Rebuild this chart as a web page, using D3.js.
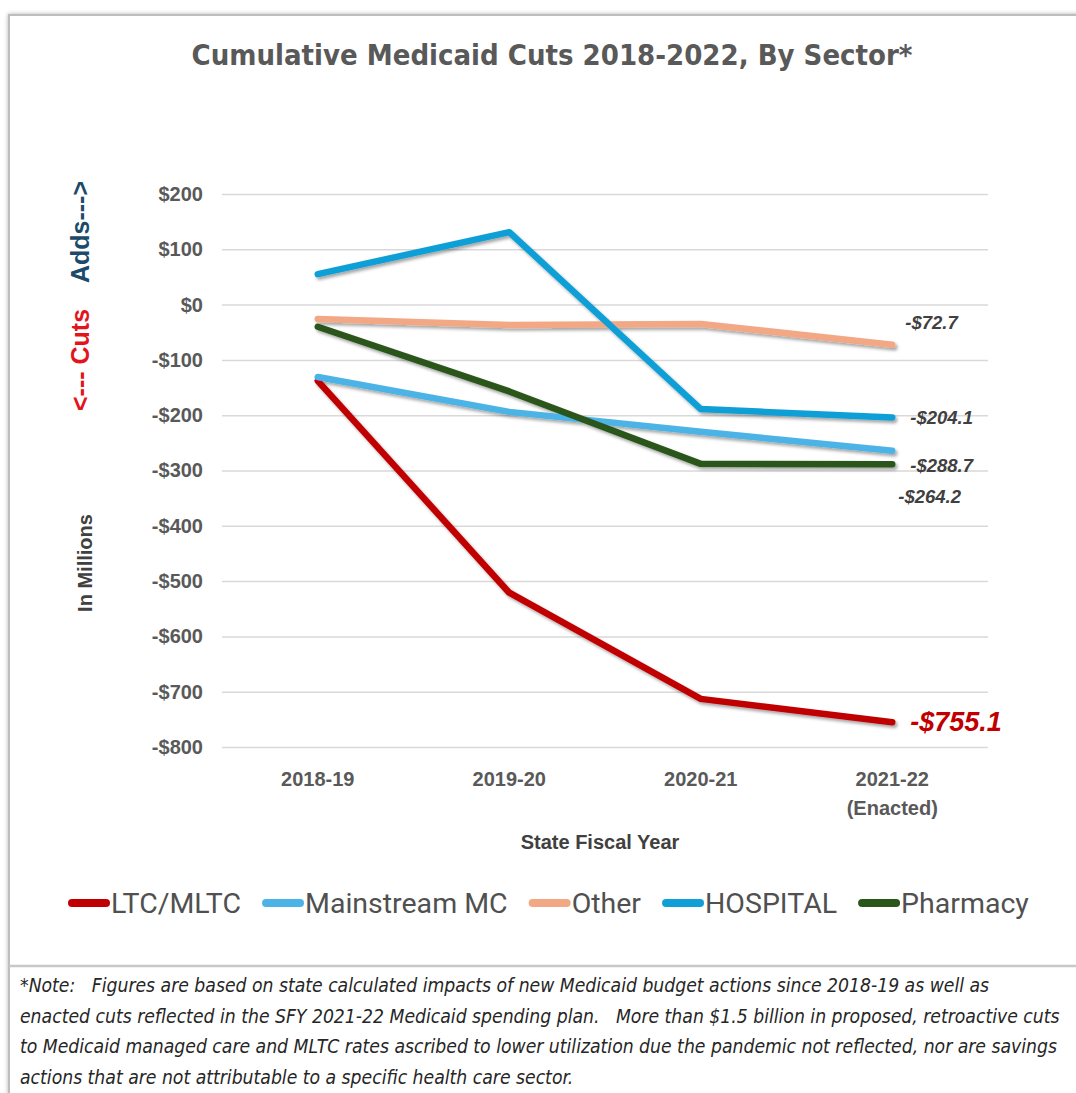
<!DOCTYPE html>
<html>
<head>
<meta charset="utf-8">
<script src="https://cdn.jsdelivr.net/npm/d3@7"></script>
<style>
  html, body { margin: 0; padding: 0; background: #ffffff; }
  svg { display: block; }
</style>
</head>
<body>
<script>
const categories = ["2018-19", "2019-20", "2020-21", "2021-22"];
const categoryLines = [["2018-19"], ["2019-20"], ["2020-21"], ["2021-22", "(Enacted)"]];
const seriesNames = ["LTC/MLTC", "Mainstream MC", "Other", "HOSPITAL", "Pharmacy"];
const seriesColors = ["#c00000", "#4cb3e6", "#f2a884", "#109fd6", "#29561a"];
const ltcValues = [-138, -521, -713, -755.1];
const mainstreamValues = [-131, -194, -230, -264.2];
const otherValues = [-26, -37, -35, -72.7];
const hospitalValues = [55, 131, -189, -204.1];
const pharmacyValues = [-40, -157, -288, -288.7];
const yTicks = [200, 100, 0, -100, -200, -300, -400, -500, -600, -700, -800];
const endLabels = ["-$755.1", "-$264.2", "-$72.7", "-$204.1", "-$288.7"];
const title = "Cumulative Medicaid Cuts 2018-2022, By Sector*";
const noteLines = [
  "*Note:   Figures are based on state calculated impacts of new Medicaid budget actions since 2018-19 as well as",
  "enacted cuts reflected in the SFY 2021-22 Medicaid spending plan.   More than $1.5 billion in proposed, retroactive cuts",
  "to Medicaid managed care and MLTC rates ascribed to lower utilization due the pandemic not reflected, nor are savings",
  "actions that are not attributable to a specific health care sector."
];

const allValues = [ltcValues, mainstreamValues, otherValues, hospitalValues, pharmacyValues];

const W = 1076, H = 1093;
const svg = d3.select("body").append("svg").attr("width", W).attr("height", H);

const defs = svg.append("defs");
const f = defs.append("filter").attr("id", "shadow").attr("x", "-10%").attr("y", "-10%").attr("width", "130%").attr("height", "140%");
f.append("feDropShadow").attr("dx", 2).attr("dy", 2.5).attr("stdDeviation", 1.8).attr("flood-color", "#000").attr("flood-opacity", 0.35);
const fb = defs.append("filter").attr("id", "frameShadow").attr("x", "-5%").attr("y", "-5%").attr("width", "110%").attr("height", "110%");
fb.append("feDropShadow").attr("dx", 0).attr("dy", 0).attr("stdDeviation", 2).attr("flood-color", "#000").attr("flood-opacity", 0.3);

// frame
svg.append("rect").attr("x", 9).attr("y", 15).attr("width", W + 20).attr("height", H + 20)
  .attr("fill", "#fff").attr("stroke", "#bdbdbd").attr("stroke-width", 2).attr("filter", "url(#frameShadow)");
svg.append("line").attr("x1", 9).attr("x2", W).attr("y1", 966).attr("y2", 966)
  .attr("stroke", "#c8c8c8").attr("stroke-width", 2.5);

const condensed = "'DejaVu Sans Condensed', 'Roboto', sans-serif";
const sans = "'Liberation Sans', Arial, sans-serif";

svg.append("text").attr("x", 552).attr("y", 65).attr("text-anchor", "middle")
  .attr("font-family", condensed).attr("font-weight", "bold").attr("font-size", 29)
  .attr("fill", "#595959").text(title);

const x = d3.scaleBand().domain(categories).range([222, 988]);
const y = d3.scaleLinear().domain([-800, 200]).range([747, 194]);
const cx = c => x(c) + x.bandwidth() / 2;

// gridlines
const yAxis = d3.axisLeft(y).tickValues(yTicks).tickSize(-(988 - 222)).tickPadding(19)
  .tickFormat(d => (d < 0 ? "-$" : "$") + Math.abs(d));
const ga = svg.append("g").attr("transform", "translate(222,0)").call(yAxis);
ga.select(".domain").remove();
ga.selectAll(".tick line").attr("stroke", "#d9d9d9").attr("stroke-width", 1.5);
ga.selectAll(".tick text").attr("font-family", sans).attr("font-weight", "bold").attr("font-size", 20).attr("fill", "#595959");

// x labels
const xg = svg.append("g");
categories.forEach((c, i) => {
  const t = xg.append("text").attr("x", cx(c)).attr("y", 786).attr("text-anchor", "middle")
    .attr("font-family", sans).attr("font-weight", "bold").attr("font-size", 20).attr("fill", "#595959");
  categoryLines[i].forEach((ln, j) => {
    t.append("tspan").attr("x", cx(c)).attr("dy", j === 0 ? 0 : 29).text(ln);
  });
});
svg.append("text").attr("x", 600).attr("y", 849).attr("text-anchor", "middle")
  .attr("font-family", sans).attr("font-weight", "bold").attr("font-size", 20).attr("fill", "#404040").text("State Fiscal Year");

// rotated labels
function rot(txt, xx, yy, color, size) {
  svg.append("text").attr("transform", `translate(${xx},${yy}) rotate(-90)`).attr("text-anchor", "middle")
    .attr("font-family", sans).attr("font-weight", "bold").attr("font-size", size).attr("fill", color).text(txt);
}
rot("Adds--->", 89, 232, "#1b4a6b", 25);
rot("<--- Cuts", 89, 360, "#e3141b", 25);
rot("In Millions", 92, 563, "#404040", 20);

// lines
const line = d3.line().x((d, i) => cx(categories[i])).y(d => y(d));
const lg = svg.append("g").attr("filter", "url(#shadow)");
allValues.forEach((vals, s) => {
  lg.append("path").datum(vals).attr("d", line).attr("fill", "none")
    .attr("stroke", seriesColors[s]).attr("stroke-width", 6.5)
    .attr("stroke-linecap", "round").attr("stroke-linejoin", "round");
});

// end labels
const labelPos = [
  {dx: 18, dy: 9, size: 27, color: "#c00000"},
  {dx: 6, dy: 52, size: 18.5, color: "#404040"},
  {dx: 13, dy: -16, size: 18.5, color: "#404040"},
  {dx: 18, dy: 7, size: 18.5, color: "#404040"},
  {dx: 18, dy: 8, size: 18.5, color: "#404040"}
];
const lastCat = categories[categories.length - 1];
allValues.forEach((vals, s) => {
  const v = vals[vals.length - 1];
  const p = labelPos[s];
  svg.append("text").attr("x", cx(lastCat) + p.dx).attr("y", y(v) + p.dy)
    .attr("font-family", sans).attr("font-weight", "bold").attr("font-style", "italic")
    .attr("font-size", p.size).attr("fill", p.color).text(endLabels[s]);
});

// legend
const legend = svg.append("g").attr("transform", "translate(0,903)");
let lx = 68;
seriesNames.forEach((n, s) => {
  legend.append("line").attr("x1", lx + 4).attr("x2", lx + 38).attr("y1", 0).attr("y2", 0)
    .attr("stroke", seriesColors[s]).attr("stroke-width", 8).attr("stroke-linecap", "round");
  const t = legend.append("text").attr("x", lx + 43).attr("y", 10)
    .attr("font-family", "Roboto, sans-serif").attr("font-size", 28.5).attr("fill", "#505050").text(n);
  lx = lx + 43 + t.node().getComputedTextLength() + 21;
});

// note
noteLines.forEach((ln, i) => {
  svg.append("text").attr("x", 20).attr("y", 992 + i * 30.5)
    .attr("font-family", condensed).attr("font-style", "italic").attr("font-size", 19.2)
    .attr("fill", "#262626").attr("xml:space", "preserve").style("white-space", "pre").text(ln);
});
</script>
</body>
</html>
